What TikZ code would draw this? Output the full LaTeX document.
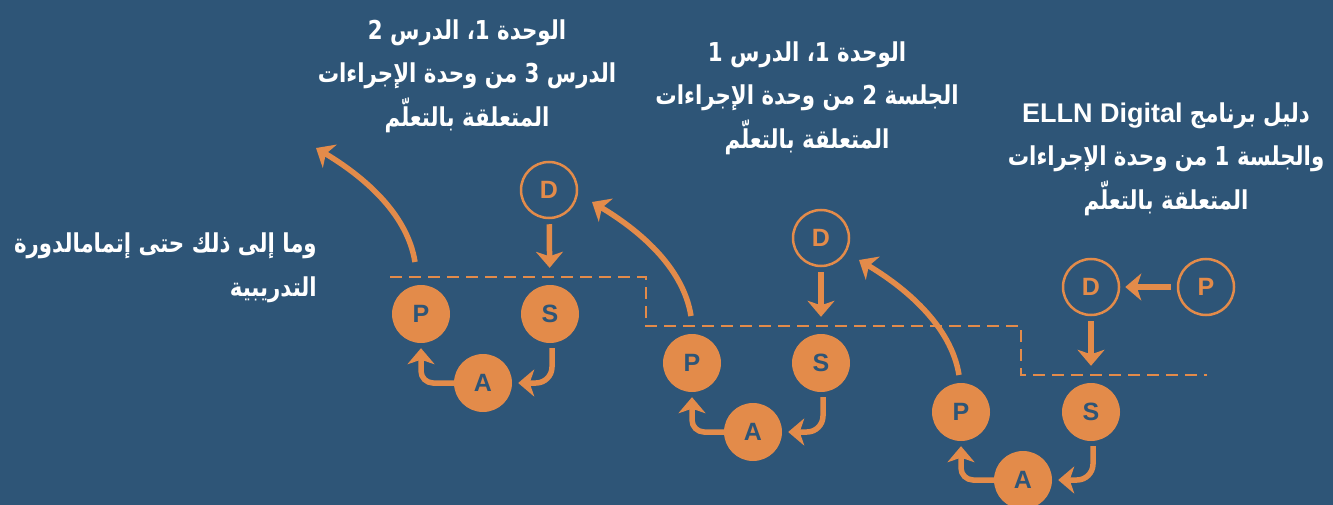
\documentclass[tikz,border=0pt]{standalone}
\usepackage{fontspec}
\setmainfont{Liberation Sans}
\newfontfamily\arabicfont[Script=Arabic,FakeStretch=0.82]{DejaVu Sans}
\newfontfamily\latinfont{Liberation Sans}
\TeXXeTstate=1
\usetikzlibrary{arrows.meta}
\definecolor{bg}{HTML}{2E5577}
\definecolor{org}{HTML}{E38B4A}
\begin{document}
\begin{tikzpicture}[x=1pt,y=-1pt,
 fillc/.style={circle, fill=org, minimum size=58pt, inner sep=0pt, text=bg, font=\bfseries\fontsize{25}{25}\selectfont},
 openc/.style={circle, draw=org, line width=2.5pt, minimum size=56pt, inner sep=0pt, text=org, font=\bfseries\fontsize{25}{25}\selectfont},
 arr/.style={draw=org, line width=5.5pt, -{Stealth[length=16pt,width=27pt,inset=4.5pt]}},
 lbl/.style={text=white, align=center, inner sep=0pt, font=\arabicfont\bfseries\fontsize{26}{43.5}\selectfont},
 dashline/.style={draw=org, line width=1.5pt, dash pattern=on 12pt off 7pt}
]
\fill[bg] (0,0) rectangle (1333,505);
\useasboundingbox (0,0) rectangle (1333,505);

\draw[dashline] (390,277) -- (646,277) -- (646,326) -- (1021,326) -- (1021,375) -- (1207,375);

% group 1
\node[openc] (D1) at (549,190) {D};
\node[fillc] (S1) at (550,314) {S};
\node[fillc] (P1) at (421,314) {P};
\node[fillc] (A1) at (483,383) {A};
% group 2
\node[openc] (D2) at (821,238) {D};
\node[fillc] (S2) at (821,363) {S};
\node[fillc] (P2) at (692,363) {P};
\node[fillc] (A2) at (753,432) {A};
% group 3
\node[openc] (P0) at (1206,287) {P};
\node[openc] (D3) at (1091,287) {D};
\node[fillc] (S3) at (1091,412) {S};
\node[fillc] (P3) at (961,412) {P};
\node[fillc] (A3) at (1023,480) {A};

\foreach \g in {1,2,3}{
  \draw[arr, shorten <=5pt, shorten >=17pt] (D\g) -- (S\g);
  \draw[arr, rounded corners=16pt] ([xshift=2pt,yshift=-5pt]S\g.south) |- ([xshift=6pt]A\g.east);
  \draw[arr, rounded corners=12pt] (A\g.west) -| ([yshift=-5pt]P\g.south);
}
\draw[arr, shorten <=6pt, shorten >=5pt] (P0) -- (D3);

\coordinate (c1s) at (415,262); \coordinate (c1e) at (316,148);
\coordinate (c2s) at (691,316); \coordinate (c2e) at (592,202);
\coordinate (c3s) at (959,375); \coordinate (c3e) at (859,260);
\foreach \g in {1,2,3}{
  \draw[arr] (c\g s) .. controls +(-8,-50) and +(45,27) .. (c\g e);
}

\node[lbl] (t1) at (467,76) {\beginR الوحدة 1، الدرس 2\endR\\ \beginR الدرس 3 من وحدة الإجراءات\endR\\ \beginR المتعلقة بالتعلّم\endR};
\node[lbl] (t2) at (807,98) {\beginR الوحدة 1، الدرس 1\endR\\ \beginR الجلسة 2 من وحدة الإجراءات\endR\\ \beginR المتعلقة بالتعلّم\endR};
\node[lbl] (t3) at (1166,159) {\beginR دليل برنامج \beginL{\latinfont\bfseries\fontsize{27}{43.5}\selectfont ELLN Digital}\endL\endR\\ \beginR والجلسة 1 من وحدة الإجراءات\endR\\ \beginR المتعلقة بالتعلّم\endR};
\node[lbl, align=right, anchor=east] (t0) at (317,268) {\beginR وما إلى ذلك حتى إتمامالدورة\endR\\ \beginR التدريبية\endR};
\end{tikzpicture}
\end{document}
